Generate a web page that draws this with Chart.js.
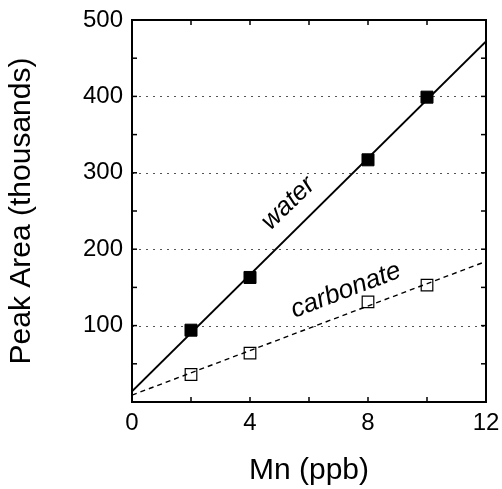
<!DOCTYPE html>
<html><head><meta charset="utf-8">
<script src="https://cdn.jsdelivr.net/npm/chart.js@4/dist/chart.umd.min.js"></script>
<style>html,body{margin:0;padding:0;background:#fff;}</style>
</head><body>
<canvas id="c" width="502" height="489"></canvas>
<script>
const mnPpb = [2, 4, 8, 10];
const waterArea = [94, 163, 317, 399];
const carbonateArea = [36, 64, 131, 153];
const fitX = [0, 12];
const waterFit = [14, 472];
const carbonateFit = [9, 184];
const xTicks = [0, 4, 8, 12];
const yTicks = [100, 200, 300, 400, 500];
const gridValues = [100, 200, 300, 400];
const seriesLabels = ['water', 'carbonate'];

const FONT = '"Liberation Sans", Arial, Helvetica, sans-serif';

const pts = (xs, ys) => xs.map((x, i) => ({x: x, y: ys[i]}));

const decor = {
  id: 'decor',
  beforeDatasetsDraw(chart) {
    const {ctx, chartArea: a, scales: {x, y}} = chart;
    ctx.save();
    ctx.strokeStyle = '#555';
    ctx.lineWidth = 1;
    ctx.setLineDash([2, 5]);
    gridValues.forEach(v => {
      const py = Math.round(y.getPixelForValue(v)) + 0.5;
      ctx.beginPath(); ctx.moveTo(a.left, py); ctx.lineTo(a.right, py); ctx.stroke();
    });
    ctx.restore();
  },
  afterDraw(chart) {
    const {ctx, chartArea: a, scales: {x, y}} = chart;
    ctx.save();
    ctx.strokeStyle = '#000';
    ctx.lineWidth = 1.5;
    ctx.setLineDash([]);
    const tl = 5;
    for (let v = 50; v < 500; v += 50) {
      const py = y.getPixelForValue(v);
      ctx.beginPath(); ctx.moveTo(a.left, py); ctx.lineTo(a.left + tl, py); ctx.stroke();
      ctx.beginPath(); ctx.moveTo(a.right, py); ctx.lineTo(a.right - tl, py); ctx.stroke();
    }
    for (let v = 2; v < 12; v += 2) {
      const px = x.getPixelForValue(v);
      ctx.beginPath(); ctx.moveTo(px, a.bottom); ctx.lineTo(px, a.bottom - tl); ctx.stroke();
      ctx.beginPath(); ctx.moveTo(px, a.top); ctx.lineTo(px, a.top + tl); ctx.stroke();
    }
    ctx.lineWidth = 2;
    ctx.strokeRect(a.left, a.top, a.right - a.left, a.bottom - a.top);
    ctx.fillStyle = '#000';
    ctx.font = 'italic 26px ' + FONT;
    ctx.textAlign = 'center';
    ctx.textBaseline = 'middle';
    ctx.save();
    ctx.translate(x.getPixelForValue(5.3), y.getPixelForValue(260));
    ctx.rotate(-44 * Math.PI / 180);
    ctx.fillText(seriesLabels[0], 0, 0);
    ctx.restore();
    ctx.save();
    ctx.translate(x.getPixelForValue(7.25), y.getPixelForValue(146));
    ctx.rotate(-21 * Math.PI / 180);
    ctx.fillText(seriesLabels[1], 0, 0);
    ctx.restore();
    ctx.restore();
  }
};

new Chart(document.getElementById('c'), {
  type: 'scatter',
  data: {
    datasets: [
      {type: 'line', data: pts(fitX, waterFit), borderColor: '#000', borderWidth: 2, pointRadius: 0, fill: false, tension: 0},
      {type: 'line', data: pts(fitX, carbonateFit), borderColor: '#000', borderWidth: 1.4, borderDash: [5, 4], pointRadius: 0, fill: false, tension: 0},
      {data: pts(mnPpb, waterArea), pointStyle: 'rect', pointRadius: 8.5, backgroundColor: '#000', borderColor: '#000', borderWidth: 1},
      {data: pts(mnPpb, carbonateArea), pointStyle: 'rect', pointRadius: 8.2, backgroundColor: '#fff', borderColor: '#000', borderWidth: 1.2}
    ]
  },
  options: {
    responsive: false,
    devicePixelRatio: 1,
    animation: false,
    layout: {padding: {top: 20, right: 16, left: 0, bottom: 0}},
    plugins: {legend: {display: false}, tooltip: {enabled: false}},
    scales: {
      x: {
        type: 'linear', min: 0, max: 12,
        afterBuildTicks: s => { s.ticks = xTicks.map(v => ({value: v})); },
        afterFit: s => { s.height = 87; s.paddingLeft = 0; s.paddingRight = 0; },
        grid: {display: false, drawTicks: false},
        border: {display: false},
        ticks: {font: {family: FONT, size: 24}, color: '#000', padding: 7, maxRotation: 0, autoSkip: false},
        title: {display: true, text: 'Mn (ppb)', font: {family: FONT, size: 30}, color: '#000', padding: {top: 0, bottom: 0}}
      },
      y: {
        type: 'linear', min: 0, max: 500,
        afterBuildTicks: s => { s.ticks = yTicks.map(v => ({value: v})); },
        afterFit: s => { s.width = 132; s.paddingTop = 0; s.paddingBottom = 0; },
        grid: {display: false, drawTicks: false},
        border: {display: false},
        ticks: {font: {family: FONT, size: 24}, color: '#000', padding: 9, autoSkip: false},
        title: {display: true, text: 'Peak Area (thousands)', font: {family: FONT, size: 30}, color: '#000', padding: {top: 4, bottom: 0}}
      }
    }
  },
  plugins: [decor]
});
</script>
</body></html>
